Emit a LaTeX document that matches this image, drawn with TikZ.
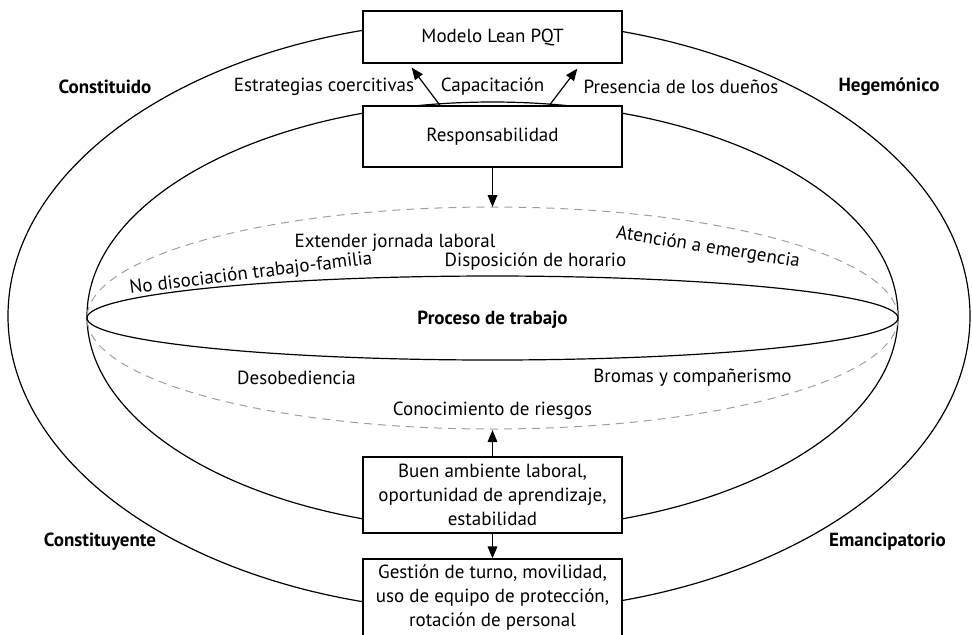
\documentclass[tikz,border=0pt]{standalone}
\usepackage{fontspec}
\setmainfont{PT Sans}
\usetikzlibrary{arrows.meta, positioning, shapes}

\begin{document}
\begin{tikzpicture}[
    x=0.5pt, y=-0.5pt,
    font=\fontsize{9.5}{12}\selectfont,
    box/.style={draw, rectangle, fill=white, line width=0.6pt,
                minimum width=129.5pt, align=center, inner sep=1pt},
    ring/.style={line width=0.6pt},
    dashring/.style={gray!75, dash pattern=on 4pt off 3pt, line width=0.5pt},
    lbl/.style={inner sep=1pt},
    side/.style={inner sep=1pt, font=\fontsize{9.5}{12}\selectfont\bfseries},
    arr/.style={-{Triangle[length=6pt, width=4.8pt]}, line width=0.6pt}
]
\useasboundingbox (0,0) rectangle (972,634);

% Rings
\draw[ring] (489,316) ellipse [x radius=481, y radius=296];
\draw[ring] (492.5,316) ellipse [x radius=405.5, y radius=214];
\draw[dashring] (492.5,318) ellipse [x radius=405.5, y radius=111];
\draw[ring] (492.5,318) ellipse [x radius=405.5, y radius=42];

% Boxes
\node[box, minimum height=26pt]   (modelo)  at (492.5, 37)  {Modelo Lean PQT};
\node[box, minimum height=30.5pt] (resp)    at (492.5,136.5) {Responsabilidad};
\node[box, minimum height=38pt]   (buen)    at (492.5,495)  {Buen ambiente laboral,\\oportunidad de aprendizaje,\\estabilidad};
\node[box, minimum height=39pt]   (gestion) at (492.5,598)  {Gesti\'on de turno, movilidad,\\uso de equipo de protecci\'on,\\rotaci\'on de personal};

% Dashed ring ends
\coordinate (dtop) at (492.5,207);
\coordinate (dbot) at (492.5,430);

% Side labels
\node[side] (constituido)   at (105, 87)  {Constituido};
\node[side] (hegemonico)    at (889, 87)  {Hegem\'onico};
\node[side] (constituyente) at (100,542)  {Constituyente};
\node[side] (emancipatorio) at (887.5,542) {Emancipatorio};

% Top labels
\node[lbl] (coerc) at (324, 87)   {Estrategias coercitivas};
\node[lbl] (capac) at (492.5, 87) {Capacitaci\'on};
\node[lbl] (duenos) at (681, 87)  {Presencia de los due\~nos};

% Inside labels
\node[lbl] (jornada)  at (395,243)   {Extender jornada laboral};
\node[lbl] (horario)  at (535.5,262) {Disposici\'on de horario};
\node[lbl, rotate=7]  (familia) at (251,274) {No disociaci\'on trabajo-familia};
\node[lbl, rotate=-9] (emerg)   at (708,248) {Atenci\'on a emergencia};
\node[side] (proceso) at (492.5,320) {Proceso de trabajo};
\node[lbl] (desob)    at (296.5,378) {Desobediencia};
\node[lbl] (bromas)   at (692.5,378) {Bromas y compa\~nerismo};
\node[lbl] (riesgos)  at (492.5,411) {Conocimiento de riesgos};

% Arrows
\draw[arr] ([xshift=-26.25pt]resp.north) -- ([xshift=-40.4pt, yshift=-2pt]modelo.south);
\draw[arr] ([xshift=28.4pt]resp.north)   -- ([xshift=42.4pt, yshift=-2.5pt]modelo.south);
\draw[arr] (resp.south) -- (dtop);
\draw[arr] (buen.north) -- (dbot);
\draw[arr] (buen.south) -- (gestion.north);

\end{tikzpicture}
\end{document}
